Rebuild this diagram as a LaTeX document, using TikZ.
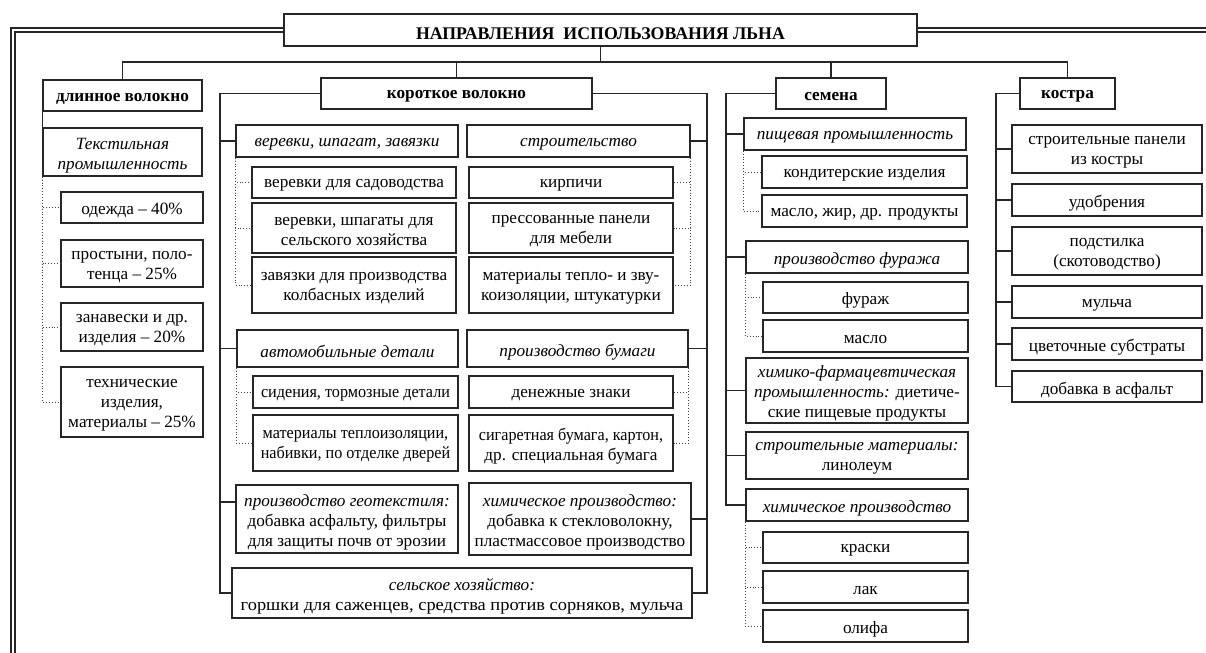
\documentclass[tikz,border=0pt]{standalone}
\usepackage{fontspec}
\usepackage{graphicx}
\setmainfont{Liberation Serif}

% box by its corners (x1,y1,x2,y2), y counted downwards; text set apart
\newcommand{\bx}[7][plainbox]{%
  \node[#1, minimum width={(#5-#3)*0.5pt}, minimum height={(#6-#4)*0.5pt}]
    (#2) at ({(#3+#5)/2},{(#4+#6)/2}) {};
  \node[#1, draw=none, yshift=-1.6pt] at (#2.center) {#7};}
\newcommand{\nrw}[1]{\scalebox{0.94}[1]{#1}}

\begin{document}
\begin{tikzpicture}[x=0.5pt, y=-0.5pt,
    every node/.style={font=\fontsize{8.6}{10}\selectfont},
    plainbox/.style={draw=black!85, line width=0.7pt, inner sep=0pt, align=center},
    catbox/.style={plainbox, font=\fontsize{8.6}{10}\selectfont\itshape},
    headbox/.style={plainbox, font=\fontsize{8.6}{10}\selectfont\bfseries},
    titlebox/.style={plainbox, font=\fontsize{8.9}{10}\selectfont\bfseries},
    link/.style={draw=black!85, line width=0.7pt},
    dotlink/.style={draw=black!75, line width=0.45pt, densely dotted},
    frame/.style={draw=black!85, line width=0.7pt, double, double distance=1.2pt}]
    \useasboundingbox (0,0) rectangle (1206,653);

    \bx[titlebox]{title}{284}{14}{917}{46}{НАПРАВЛЕНИЯ\ \ ИСПОЛЬЗОВАНИЯ ЛЬНА}
    \draw[frame] (title.west) -- (13,30) -- (13,670);
    \draw[frame] (title.east) -- (1225,30);

    % long fibre
    \bx[headbox]{dl}{43}{80}{202}{111}{длинное волокно}
    \bx[catbox]{tex}{43}{128}{202}{176}{Текстильная\\промышленность}
    \bx{t1}{61}{192}{203}{223}{одежда – 40\%}
    \bx{t2}{61}{240}{203}{287}{простыни, поло-\\тенца – 25\%}
    \bx{t3}{61}{303}{203}{351}{занавески и др.\\изделия – 20\%}
    \bx{t4}{61}{367}{203}{437}{технические\\изделия,\\материалы – 25\%}

    % short fibre
    \bx[headbox]{kv}{321}{78}{592}{109}{короткое волокно}
    \bx[catbox]{vs}{236}{125}{458}{157}{веревки, шпагат, завязки}
    \bx{v1}{252}{167}{456}{198}{веревки для садоводства}
    \bx{v2}{252}{203}{456}{253}{веревки, шпагаты для\\сельского хозяйства}
    \bx{v3}{252}{257}{456}{313}{завязки для производства\\колбасных изделий}
    \bx[catbox]{stro}{467}{125}{690}{157}{строительство}
    \bx{s1}{469}{167}{673}{198}{кирпичи}
    \bx{s2}{469}{203}{673}{253}{прессованные панели\\для мебели}
    \bx{s3}{469}{257}{673}{313}{материалы тепло- и зву-\\коизоляции, штукатурки}
    \bx[catbox]{avt}{237}{330}{458}{367}{автомобильные детали}
    \bx{a1}{253}{376}{458}{408}{\nrw{сидения, тормозные детали}}
    \bx{a2}{253}{415}{458}{471}{\nrw{материалы теплоизоляции,}\\\nrw{набивки, по отделке дверей}}
    \bx[catbox]{bum}{467}{330}{688}{367}{производство бумаги}
    \bx{b1}{469}{376}{673}{408}{денежные знаки}
    \bx{b2}{469}{415}{673}{471}{\nrw{сигаретная бумага, картон,}\\др. специальная бумага}
    \bx{geo}{236}{485}{458}{553}{\textit{производство геотекстиля:}\\добавка асфальту, фильтры\\для защиты почв от эрозии}
    \bx{him}{469}{483}{691}{555}{\textit{химическое производство:}\\добавка к стекловолокну,\\пластмассовое производство}
    \bx{sel}{232}{568}{692}{618}{\textit{сельское хозяйство:}\\\scalebox{1.07}[1]{горшки для саженцев, средства против сорняков, мульча}}

    % seeds
    \bx[headbox]{sem}{776}{78}{886}{109}{семена}
    \bx[catbox]{pp}{744}{118}{966}{150}{пищевая промышленность}
    \bx{p1}{762}{156}{967}{188}{кондитерские изделия}
    \bx{p2}{762}{195}{967}{227}{масло, жир, др. продукты}
    \bx[catbox]{fp}{746}{241}{968}{273}{производство фуража}
    \bx{f1}{763}{282}{968}{313}{фураж}
    \bx{f2}{763}{320}{968}{352}{масло}
    \bx{hf}{746}{358}{968}{423}{\textit{химико-фармацевтическая}\\\textit{промышленность:} диетиче-\\ские пищевые продукты}
    \bx{sm}{746}{432}{968}{479}{\textit{строительные материалы:}\\линолеум}
    \bx[catbox]{hp}{746}{489}{968}{521}{химическое производство}
    \bx{h1}{763}{532}{968}{563}{краски}
    \bx{h2}{763}{571}{968}{603}{лак}
    \bx{h3}{763}{610}{968}{642}{олифа}

    % shives
    \bx[headbox]{kos}{1020}{78}{1115}{109}{костра}
    \bx{k1}{1012}{125}{1202}{173}{строительные панели\\из костры}
    \bx{k2}{1012}{184}{1202}{216}{удобрения}
    \bx{k3}{1012}{227}{1202}{275}{подстилка\\(скотоводство)}
    \bx{k4}{1012}{286}{1202}{318}{мульча}
    \bx{k5}{1012}{328}{1202}{360}{цветочные субстраты}
    \bx{k6}{1012}{371}{1202}{402}{добавка в асфальт}

    % top bus
    \coordinate (bus) at (600,62);
    \draw[link] (title.south) -- (title.south |- bus);
    \draw[link] (dl.north) |- (kos.north |- bus) -- (kos.north);
    \foreach \n in {kv,sem}
        \draw[link] (\n.north) -- (\n.north |- bus);

    \draw[link] (dl.south west) -- (tex.north west);
    \foreach \n in {t1,t2,t3,t4}
        \draw[dotlink] (tex.south west) |- (\n.west);

    \coordinate (kl) at (220,0);
    \coordinate (kr) at (707,0);
    \draw[link] (kv.west) -| (kl |- sel.west) -- (sel.west);
    \draw[link] (kv.east) -| (kr |- sel.east) -- (sel.east);
    \foreach \n in {vs,avt}
        \draw[link] (kl |- \n.west) -- (\n.west);
    \draw[link] ([yshift=8.5pt]geo.west) -- ++(-8pt,0);
    \foreach \n in {stro,bum,him}
        \draw[link] (kr |- \n.east) -- (\n.east);
    \foreach \n in {v1,v2,v3}
        \draw[dotlink] (vs.south west) |- (\n.west);
    \foreach \n in {s1,s2,s3}
        \draw[dotlink] (stro.south east) |- (\n.east);
    \foreach \n in {a1,a2}
        \draw[dotlink] (avt.south west) |- (\n.west);
    \foreach \n in {b1,b2}
        \draw[dotlink] (bum.south east) |- (\n.east);

    \coordinate (sl) at (726,0);
    \draw[link] (sem.west) -| (sl |- hp.west) -- (hp.west);
    \foreach \n in {pp,fp,hf,sm}
        \draw[link] (sl |- \n.west) -- (\n.west);
    \foreach \n in {p1,p2}
        \draw[dotlink] (pp.south west) |- (\n.west);
    \foreach \n in {f1,f2}
        \draw[dotlink] (fp.south west) |- (\n.west);
    \foreach \n in {h1,h2,h3}
        \draw[dotlink] (hp.south west) |- (\n.west);

    \coordinate (cl) at (996,0);
    \draw[link] (kos.west) -| (cl |- k6.west) -- (k6.west);
    \foreach \n in {k1,k2,k3,k4,k5}
        \draw[link] (cl |- \n.west) -- (\n.west);
\end{tikzpicture}
\end{document}
